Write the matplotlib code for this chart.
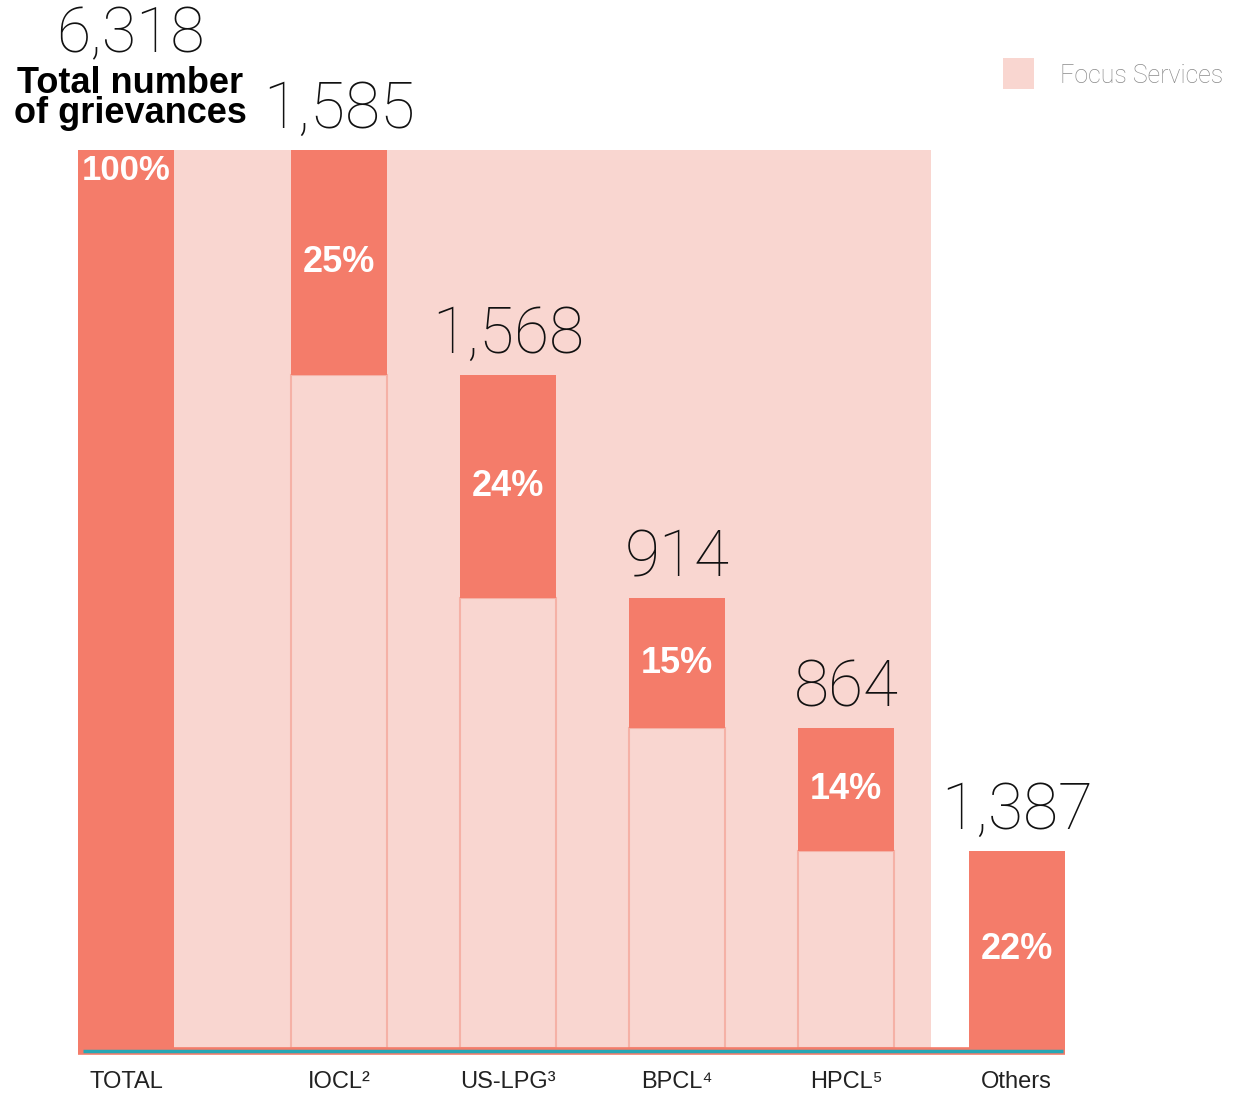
import matplotlib
matplotlib.use("Agg")
import matplotlib.pyplot as plt
from matplotlib.patches import Rectangle
import matplotlib.transforms as mtransforms
from matplotlib import font_manager

# ---------------- data ----------------
categories = ["TOTAL", "IOCL", "US-LPG", "BPCL", "HPCL", "Others"]
tick_labels = ["TOTAL", "IOCL²", "US-LPG³", "BPCL⁴", "HPCL⁵", "Others"]
values = [6318, 1585, 1568, 914, 864, 1387]
percents = ["100%", "25%", "24%", "15%", "14%", "22%"]
legend_label = "Focus Services"
total_title = "Total number\nof grievances"

# ---------------- layout / style ----------------
positions = [0, 1.26, 2.26, 3.26, 4.26, 5.27]
bar_w = 0.568
SALMON = "#F47C6A"
PINK = "#F9D6D0"
OUTLINE = "#F5B1A6"
TEAL = "#27A7B5"

names = {f.name for f in font_manager.fontManager.ttflist}
thin_family = [f for f in ["Roboto", "Lato", "Open Sans"] if f in names] + ["DejaVu Sans"]
sans = ["Liberation Sans", "DejaVu Sans"]

W, H = 1240, 1093
fig = plt.figure(figsize=(W / 100, H / 100), dpi=100)
left_px, right_px = 40, 1110
base_px, top_px = 1048, 150
ax = fig.add_axes([left_px / W, 1 - base_px / H, (right_px - left_px) / W, (base_px - top_px) / H])
ax.set_xlim((left_px - 126) / 169, (right_px - 126) / 169)
ax.set_ylim(0, values[0])
ax.axis("off")

total = values[0]
# background "Focus Services" region
bg_left = positions[0] - bar_w / 2
bg_right = (positions[4] + positions[5]) / 2
ax.add_patch(Rectangle((bg_left, 0), bg_right - bg_left, total, facecolor=PINK, edgecolor="none", zorder=1))

# waterfall
tops, bottoms = [total], [0]
running = total
for v in values[1:]:
    tops.append(running)
    bottoms.append(running - v)
    running -= v

for i, (x, v) in enumerate(zip(positions, values)):
    b = bottoms[i]
    if 0 < i < len(values) - 1 and b > 0:
        ax.add_patch(Rectangle((x - bar_w / 2, 0), bar_w, b, facecolor=PINK,
                               edgecolor=OUTLINE, linewidth=1.5, zorder=2))
    ax.bar(x, v, bottom=b, width=bar_w, color=SALMON, zorder=3, linewidth=0)

# baseline
shift = mtransforms.ScaledTranslation(0, -3 / 100, fig.dpi_scale_trans)
ax.plot([positions[0] - bar_w / 2, positions[-1] + bar_w / 2], [0, 0], color=SALMON,
        linewidth=5.5, solid_capstyle="butt", clip_on=False, zorder=4,
        transform=ax.transData + shift)
ax.plot([positions[0] - bar_w / 2 + 0.03, positions[-1] + bar_w / 2 - 0.01], [0, 0], color=TEAL,
        linewidth=2.5, solid_capstyle="butt", clip_on=False, zorder=5,
        transform=ax.transData + shift)

# percent labels
for i, (x, p) in enumerate(zip(positions, percents)):
    if i == 0:
        ax.annotate(p, (x, total), xytext=(0, -20), textcoords="offset pixels", ha="center", va="center",
                    color="white", fontsize=25, fontweight="bold", family=sans, zorder=6)
    else:
        y = bottoms[i] + values[i] / 2
        ax.text(x, y, p, ha="center", va="center", color="white", fontsize=26,
                fontweight="bold", family=sans, zorder=6)

# value labels above floating bars
for i in range(1, len(values)):
    ax.annotate(f"{values[i]:,}", (positions[i], tops[i]), xytext=(0, 22), textcoords="offset pixels",
                ha="center", va="baseline", fontsize=46, fontweight=100, family=thin_family,
                color="#111111", zorder=6)

# total label at top-left
fig.text(130 / W, 1 - 52 / H, f"{values[0]:,}", ha="center", va="baseline",
         fontsize=45, fontweight=100, family=thin_family, color="#111111")
fig.text(130 / W, 1 - 123 / H, total_title, ha="center", va="baseline", multialignment="center",
         fontsize=26, fontweight="bold", family=sans, color="black", linespacing=0.8)

# category labels
lab_tr = mtransforms.blended_transform_factory(ax.transData, fig.transFigure)
for x, lab in zip(positions, tick_labels):
    ax.text(x, 1 - 1088 / H, lab, transform=lab_tr, ha="center", va="baseline",
            fontsize=17, family=sans, color="#222222")

# legend
fig.patches.append(Rectangle((1003 / W, 1 - 89 / H), 31 / W, 31 / H, transform=fig.transFigure,
                             facecolor=PINK, edgecolor="none"))
fig.text(1060 / W, 1 - 83 / H, legend_label, ha="left", va="baseline", fontsize=18,
         fontweight=200, family=thin_family, color="#8a8a8a")

fig.savefig("out.png", dpi=100)
